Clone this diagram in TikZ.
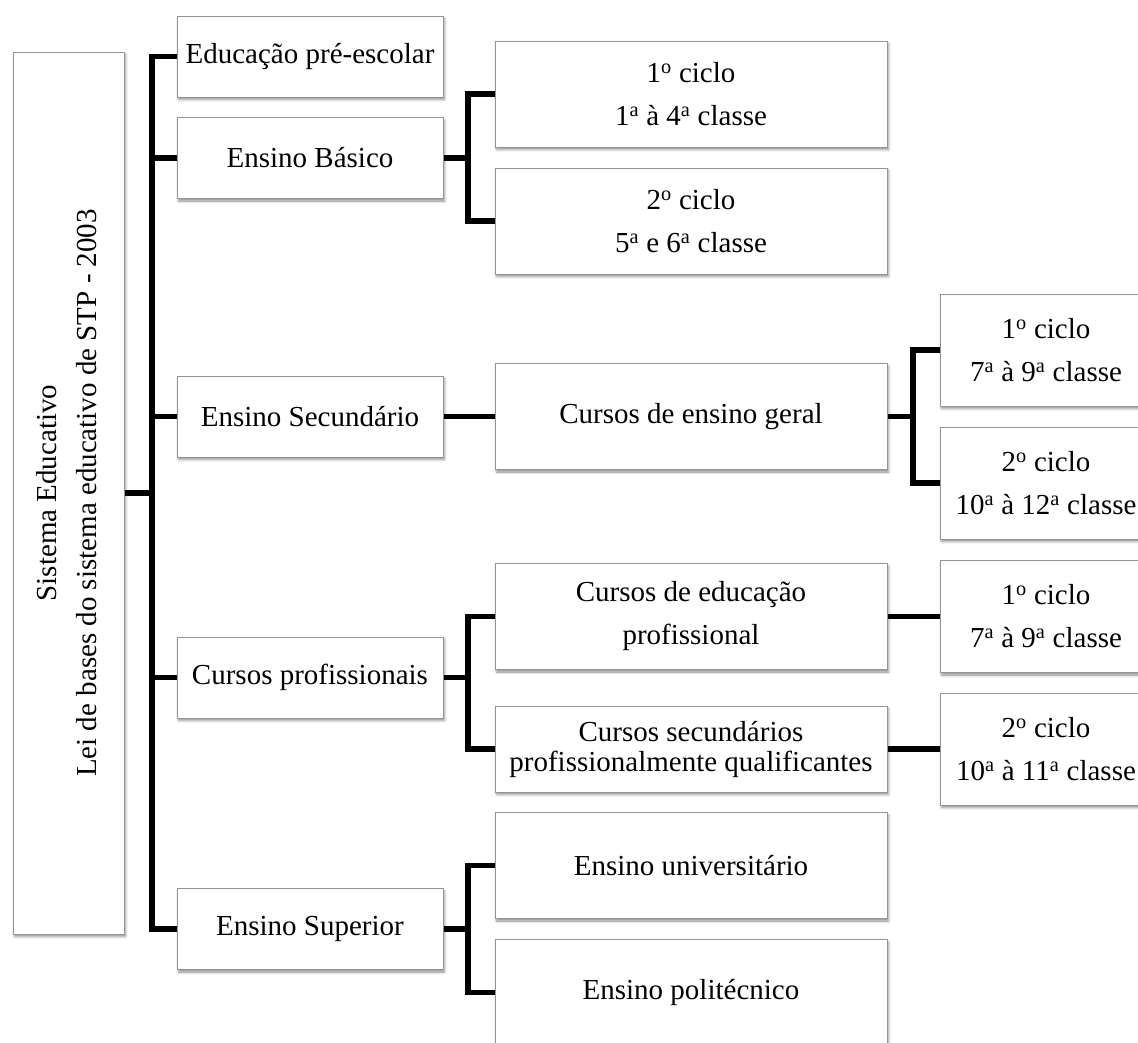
\documentclass[tikz,border=0pt]{standalone}
\usepackage{fontspec}
\setmainfont{Liberation Serif}
\usetikzlibrary{shadows.blur}

\newcommand{\ord}[1]{\textsuperscript{#1}}

\tikzset{
  box/.style={draw=black!42, line width=1pt, fill=white, inner sep=0pt, align=center,
    font=\fontsize{29}{33}\selectfont,
    blur shadow={shadow xshift=1.5pt, shadow yshift=-2.5pt, shadow blur radius=2.5pt, shadow opacity=45}},
  lvone/.style={box, minimum width=266pt, minimum height=81pt},
  lvtwo/.style={box, minimum width=392pt, minimum height=106pt},
  lvthree/.style={box, minimum width=212pt, minimum height=112pt},
  wide/.style={font=\fontsize{29}{43}\selectfont},
  conn/.style={draw=black, line width=5.5pt, line join=miter}
}

\begin{document}
\begin{tikzpicture}[x=1pt, y=-1pt]
  \useasboundingbox (0,0) rectangle (1138,1042);
  \clip (0,0) rectangle (1138,1042);

  % root
  \node[box, minimum width=111pt, minimum height=882pt] (root) at (68.5,493)
    {\rotatebox{90}{\fontsize{29}{40}\selectfont\begin{tabular}{@{}c@{}}Sistema Educativo\\Lei de bases do sistema educativo de STP - 2003\end{tabular}}};

  % first level
  \node[lvone] (edu)  at (310,56.5)  {Educação pré-escolar};
  \node[lvone] (bas)  at (310,158)   {Ensino Básico};
  \node[lvone] (sec)  at (310,416.5) {Ensino Secundário};
  \node[lvone] (prof) at (310,677.5) {Cursos profissionais};
  \node[lvone] (sup)  at (310,929)   {Ensino Superior};

  % second level
  \node[lvtwo, wide] (bc1) at (691,94)  {1\ord{o} ciclo\\1\ord{a} à 4\ord{a} classe};
  \node[lvtwo, wide] (bc2) at (691,221) {2\ord{o} ciclo\\5\ord{a} e 6\ord{a} classe};
  \node[lvtwo] (ger) at (691,416.5) {Cursos de ensino geral};
  \node[lvtwo, wide] (edp) at (691,616.5) {Cursos de educação\\profissional};
  \node[lvtwo, minimum height=86pt, font=\fontsize{29}{30}\selectfont] (sqp) at (691,749)
    {Cursos secundários\\profissionalmente qualificantes};
  \node[lvtwo] (uni) at (691,865.5) {Ensino universitário};
  \node[lvtwo] (pol) at (691,992.5) {Ensino politécnico};

  % third level
  \node[lvthree, wide] (g1) at (1046,350) {1\ord{o} ciclo\\7\ord{a} à 9\ord{a} classe};
  \node[lvthree, wide] (g2) at (1046,483) {2\ord{o} ciclo\\10\ord{a} à 12\ord{a} classe};
  \node[lvthree, wide] (p1) at (1046,616.5) {1\ord{o} ciclo\\7\ord{a} à 9\ord{a} classe};
  \node[lvthree, wide] (p2) at (1046,749) {2\ord{o} ciclo\\10\ord{a} à 11\ord{a} classe};

  % bracket spines
  \coordinate (tk) at (152,0);
  \coordinate (mk) at (468,0);
  \coordinate (rk) at (913,0);

  % root to first level
  \draw[conn] (root.east) -- (root.east -| tk);
  \draw[conn] (edu.west) -- (edu.west -| tk) -- (sup.west -| tk) -- (sup.west);
  \draw[conn] (bas.west) -- (bas.west -| tk);
  \draw[conn] (sec.west) -- (sec.west -| tk);
  \draw[conn] (prof.west) -- (prof.west -| tk);

  % first level to second level
  \draw[conn] (bas.east) -- (bas.east -| mk);
  \draw[conn] (bc1.west) -- (bc1.west -| mk) -- (bc2.west -| mk) -- (bc2.west);
  \draw[conn] (sec.east) -- (ger.west);
  \draw[conn] (prof.east) -- (prof.east -| mk);
  \draw[conn] (edp.west) -- (edp.west -| mk) -- (sqp.west -| mk) -- (sqp.west);
  \draw[conn] (sup.east) -- (sup.east -| mk);
  \draw[conn] (uni.west) -- (uni.west -| mk) -- (pol.west -| mk) -- (pol.west);

  % second level to third level
  \draw[conn] (ger.east) -- (ger.east -| rk);
  \draw[conn] (g1.west) -- (g1.west -| rk) -- (g2.west -| rk) -- (g2.west);
  \draw[conn] (edp.east) -- (p1.west);
  \draw[conn] (sqp.east) -- (p2.west);
\end{tikzpicture}
\end{document}
